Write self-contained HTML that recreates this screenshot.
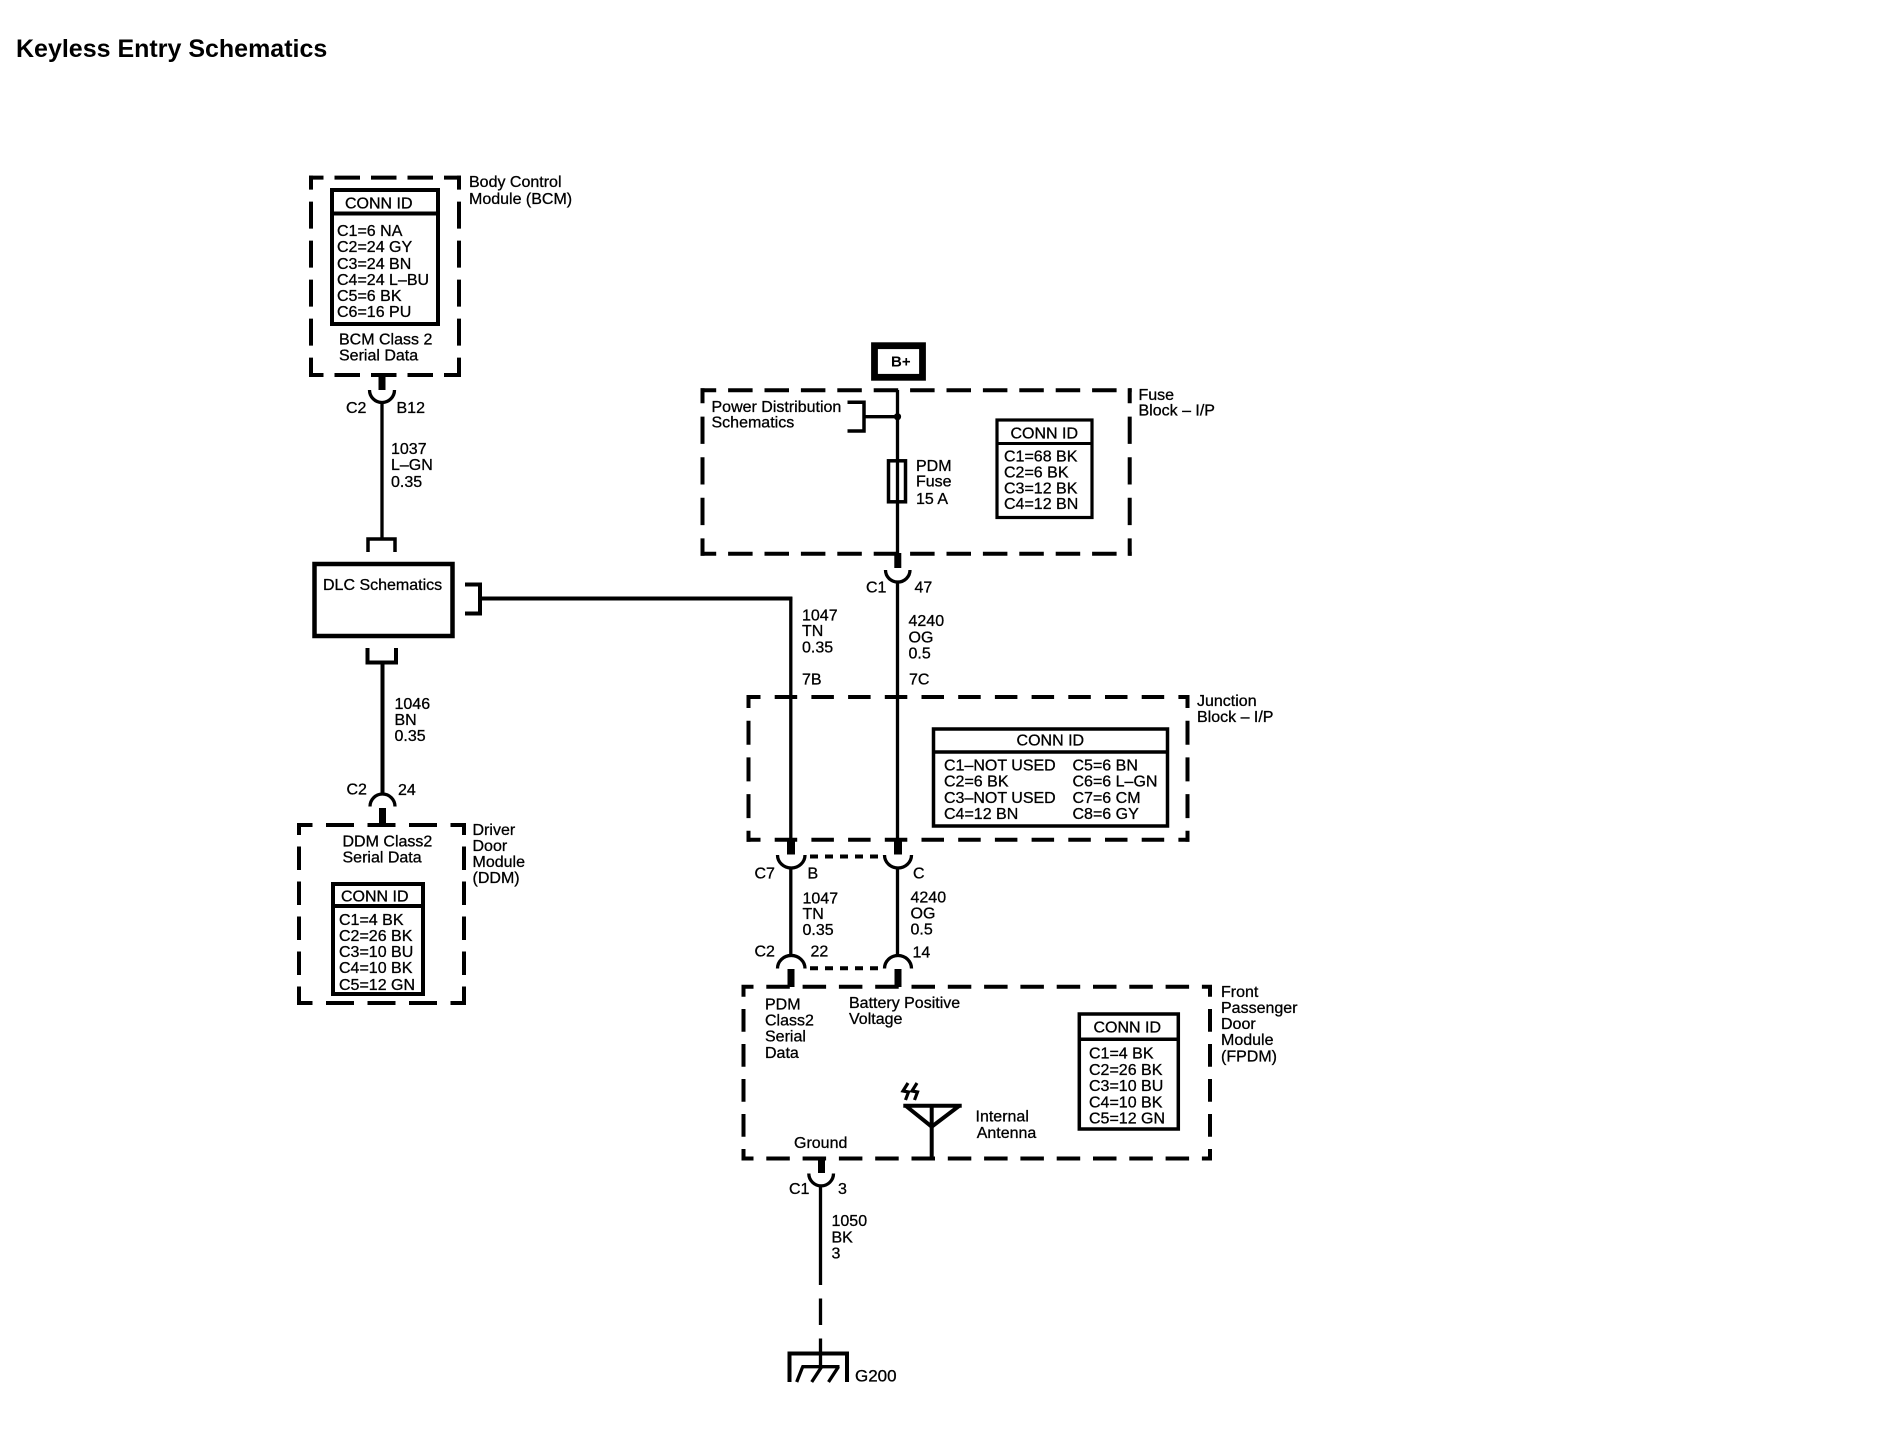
<!DOCTYPE html>
<html lang="en">
<head>
<meta charset="utf-8">
<title>Keyless Entry Schematics</title>
<style>
html,body{margin:0;padding:0;background:#fff}
svg{display:block}
text{font-family:"Liberation Sans",Arial,sans-serif;font-size:16px;fill:#000;stroke:#000;stroke-width:.3}
.t{font-size:25px;font-weight:bold;stroke:none}
.l{fill:none;stroke:#000;stroke-width:3.5}
.h{fill:none;stroke:#000;stroke-width:4}
.b{fill:none;stroke:#000;stroke-width:4}
.w{fill:none;stroke:#000;stroke-width:3.3}
.s{fill:none;stroke:#000;stroke-width:7}
</style>
</head>
<body>
<svg xmlns="http://www.w3.org/2000/svg" width="1900" height="1440" viewBox="0 0 1900 1440">
<rect width="1900" height="1440" fill="#fff"/>
<text class="t" x="16" y="57">Keyless Entry Schematics</text>

<!-- BCM -->
<path class="h" d="M309 177.6H461M309 375H461" stroke-dasharray="25.5 11" stroke-dashoffset="11"/>
<path class="h" d="M311 175.6V377M459 175.6V377" stroke-dasharray="27 12" stroke-dashoffset="13"/>
<rect class="b" x="332" y="190" width="106" height="134"/>
<path class="b" d="M332 213.5H438"/>
<text x="345" y="208.5">CONN ID</text>
<text x="337" y="236">C1=6 NA</text>
<text x="337" y="252">C2=24 GY</text>
<text x="337" y="269">C3=24 BN</text>
<text x="337" y="285">C4=24 L–BU</text>
<text x="337" y="301">C5=6 BK</text>
<text x="337" y="317">C6=16 PU</text>
<text x="339" y="344.5">BCM Class 2</text>
<text x="339" y="360.5">Serial Data</text>
<text x="469" y="187">Body Control</text>
<text x="469" y="204">Module (BCM)</text>
<path class="s" d="M382 376V390"/>
<path class="w" d="M369.5 390A12.5 12.5 0 0 0 394.5 390"/>
<path class="w" d="M382 402V538"/>
<path class="l" d="M368 552V539H395V552"/>
<text x="346" y="413">C2</text>
<text x="396.5" y="413">B12</text>
<text x="391" y="454">1037</text>
<text x="391" y="470">L–GN</text>
<text x="391" y="487">0.35</text>

<!-- DLC -->
<rect x="314.5" y="564" width="138" height="72" fill="none" stroke="#000" stroke-width="4.5"/>
<text x="323" y="590">DLC Schematics</text>
<path class="h" d="M465 584.5H480V613.5H465"/>
<path class="h" d="M480 598.5H792.4"/>
<path class="w" d="M790.8 597V840"/>
<path class="h" d="M367.5 648V662.5H396V648"/>
<path class="h" d="M382.5 663V795"/>
<text x="394.5" y="709">1046</text>
<text x="394.5" y="725">BN</text>
<text x="394.5" y="741">0.35</text>
<text x="346.5" y="794.5">C2</text>
<text x="398" y="795">24</text>
<path class="w" d="M370 806.5A12.5 12.5 0 0 1 395 806.5"/>
<path class="s" d="M382.5 808V824"/>

<!-- DDM -->
<path class="h" d="M297 825H465.5M297 1003H465.5" stroke-dasharray="28 13.5" stroke-dashoffset="12.5"/>
<path class="h" d="M299 823V1005M464 823V1005" stroke-dasharray="23.5 11.5" stroke-dashoffset="11.5"/>
<text x="342.5" y="846.5">DDM Class2</text>
<text x="342.5" y="862.5">Serial Data</text>
<rect class="b" x="333" y="884" width="90" height="110"/>
<path class="b" d="M333 906H423"/>
<text x="341" y="901.5">CONN ID</text>
<text x="339" y="925">C1=4 BK</text>
<text x="339" y="941">C2=26 BK</text>
<text x="339" y="957">C3=10 BU</text>
<text x="339" y="973">C4=10 BK</text>
<text x="339" y="990">C5=12 GN</text>
<text x="472.5" y="835">Driver</text>
<text x="472.5" y="851">Door</text>
<text x="472.5" y="867">Module</text>
<text x="472.5" y="883">(DDM)</text>

<!-- B+ -->
<rect x="874.5" y="345.7" width="48" height="31.6" fill="none" stroke="#000" stroke-width="6.8"/>
<text x="891" y="366.5" style="font-size:15px;font-weight:bold;stroke:none">B+</text>

<!-- Fuse block -->
<path class="h" d="M700.5 390.3H1131.7M700.5 553.7H1131.7" stroke-dasharray="24.5 11.9" stroke-dashoffset="8.8"/>
<path class="h" d="M702.5 388.3V555.7M1129.7 388.3V555.7" stroke-dasharray="27.3 13.3" stroke-dashoffset="12.3"/>
<path class="w" d="M897.5 390V554"/>
<circle cx="897.5" cy="416.7" r="3.6"/>
<path class="w" d="M864 416.7H897"/>
<path class="l" d="M847.5 402.3H864V431H847.5"/>
<text x="711.5" y="412">Power Distribution</text>
<text x="711.5" y="427.5">Schematics</text>
<rect x="888.5" y="460.8" width="17" height="41" fill="none" stroke="#000" stroke-width="3.5"/>
<text x="916" y="471">PDM</text>
<text x="916" y="486.5">Fuse</text>
<text x="916" y="504">15 A</text>
<rect x="997" y="420" width="95" height="97.5" fill="none" stroke="#000" stroke-width="3.2"/>
<path d="M997 443.5H1092" stroke="#000" stroke-width="3" fill="none"/>
<text x="1010.5" y="438.5">CONN ID</text>
<text x="1004" y="461.5">C1=68 BK</text>
<text x="1004" y="477.5">C2=6 BK</text>
<text x="1004" y="493.5">C3=12 BK</text>
<text x="1004" y="509">C4=12 BN</text>
<text x="1138.5" y="400">Fuse</text>
<text x="1138.5" y="415.5">Block – I/P</text>
<path class="s" d="M897.8 553V568"/>
<path class="w" d="M885.5 570A12.2 12 0 0 0 910 570"/>
<path class="w" d="M897.5 581V840"/>
<text x="866" y="592.5">C1</text>
<text x="914.5" y="592.5">47</text>
<text x="802" y="620.5">1047</text>
<text x="802" y="636">TN</text>
<text x="802" y="652.5">0.35</text>
<text x="802" y="684.5">7B</text>
<text x="908.5" y="626">4240</text>
<text x="908.5" y="642.5">OG</text>
<text x="908.5" y="658.5">0.5</text>
<text x="909" y="684.5">7C</text>

<!-- Junction block -->
<path class="h" d="M746.5 697H1189.5M746.5 839.7H1189.5" stroke-dasharray="22.5 14.2" stroke-dashoffset="8.5"/>
<path class="h" d="M748.5 695V841.7M1187.5 695V841.7" stroke-dasharray="24 12.7" stroke-dashoffset="11"/>
<rect x="933.5" y="729" width="234" height="97" fill="none" stroke="#000" stroke-width="3.5"/>
<path class="l" d="M933 752H1168"/>
<text x="1050.3" y="745.5" text-anchor="middle">CONN ID</text>
<text x="944" y="770.5">C1–NOT USED</text>
<text x="944" y="786.5">C2=6 BK</text>
<text x="944" y="803">C3–NOT USED</text>
<text x="944" y="819">C4=12 BN</text>
<text x="1072.5" y="770.5">C5=6 BN</text>
<text x="1072.5" y="786.5">C6=6 L–GN</text>
<text x="1072.5" y="803">C7=6 CM</text>
<text x="1072.5" y="819">C8=6 GY</text>
<text x="1197" y="706">Junction</text>
<text x="1197" y="722">Block – I/P</text>
<path class="s" d="M791 840V854.5M898 840V854.5" style="stroke-width:8"/>
<path class="w" d="M777.5 855A13.7 13 0 0 0 805 855M884.5 855A13.5 13 0 0 0 911.5 855"/>
<path d="M810 856.5H884" fill="none" stroke="#000" stroke-width="4" stroke-dasharray="8 7"/>
<path class="w" d="M790.8 867V957M897.5 867V957"/>
<text x="754.5" y="878.5">C7</text>
<text x="807.5" y="878.5">B</text>
<text x="913" y="878.5">C</text>
<text x="802.5" y="903.5">1047</text>
<text x="802.5" y="919">TN</text>
<text x="802.5" y="935">0.35</text>
<text x="910.5" y="902.5">4240</text>
<text x="910.5" y="918.5">OG</text>
<text x="910.5" y="934.5">0.5</text>
<text x="754.5" y="956.5">C2</text>
<text x="810.5" y="956.5">22</text>
<text x="912.5" y="957.5">14</text>
<path class="w" d="M777.5 968.5A13.7 13 0 0 1 805 968.5M884.5 968.5A13.5 13 0 0 1 911.5 968.5"/>
<path d="M810 968.3H884" fill="none" stroke="#000" stroke-width="4" stroke-dasharray="8 7"/>
<path class="s" d="M791 969V987M898 969V987"/>

<!-- FPDM -->
<path class="h" d="M741.5 986.7H1212M741.5 1158.5H1212" stroke-dasharray="23.5 12.8" stroke-dashoffset="11.5"/>
<path class="h" d="M743.5 985V1160.5M1210 985V1160.5" stroke-dasharray="22.7 12.3" stroke-dashoffset="11"/>
<text x="765" y="1009.5">PDM</text>
<text x="765" y="1025.5">Class2</text>
<text x="765" y="1041.5">Serial</text>
<text x="765" y="1058">Data</text>
<text x="849" y="1008">Battery Positive</text>
<text x="849" y="1024">Voltage</text>
<rect x="1079.3" y="1014" width="99" height="115" fill="none" stroke="#000" stroke-width="3.5"/>
<path class="l" d="M1079 1039.3H1178.5"/>
<text x="1093.5" y="1032.5">CONN ID</text>
<text x="1089" y="1058.5">C1=4 BK</text>
<text x="1089" y="1075">C2=26 BK</text>
<text x="1089" y="1091">C3=10 BU</text>
<text x="1089" y="1107.5">C4=10 BK</text>
<text x="1089" y="1123.5">C5=12 GN</text>
<text x="1221" y="997">Front</text>
<text x="1221" y="1013">Passenger</text>
<text x="1221" y="1029">Door</text>
<text x="1221" y="1045">Module</text>
<text x="1221" y="1061.5">(FPDM)</text>
<path d="M903.3 1105.7H961.7M906 1106L931.7 1126.7L959 1106" fill="none" stroke="#000" stroke-width="4"/>
<path d="M931.7 1105V1158" fill="none" stroke="#000" stroke-width="4"/>
<path d="M908 1083L903 1091L908.5 1092L905.5 1100M917 1083L912 1091L917.5 1092L914.5 1100" fill="none" stroke="#000" stroke-width="3.2"/>
<text x="975.5" y="1121.7">Internal</text>
<text x="976.7" y="1138">Antenna</text>
<text x="794" y="1148">Ground</text>
<path class="s" d="M821.5 1158V1173"/>
<path class="w" d="M808.8 1173.5A12 12 0 0 0 833.5 1173.5"/>
<path class="w" d="M820.5 1185V1285M820.5 1298.5V1325M820.5 1338.5V1367"/>
<text x="789" y="1194">C1</text>
<text x="838" y="1194">3</text>
<text x="831.5" y="1226">1050</text>
<text x="831.5" y="1242.5">BK</text>
<text x="831.5" y="1258.5">3</text>
<path d="M789.5 1382V1353.5H847V1382" fill="none" stroke="#000" stroke-width="4"/>
<path class="w" d="M801.5 1366.7H839.5"/>
<path class="w" d="M802.7 1366.7L796.7 1382M821.7 1366.7L811.7 1382M838.5 1366.7L828.5 1382"/>
<text x="855" y="1381.5" style="font-size:17px">G200</text>
</svg>
</body>
</html>
